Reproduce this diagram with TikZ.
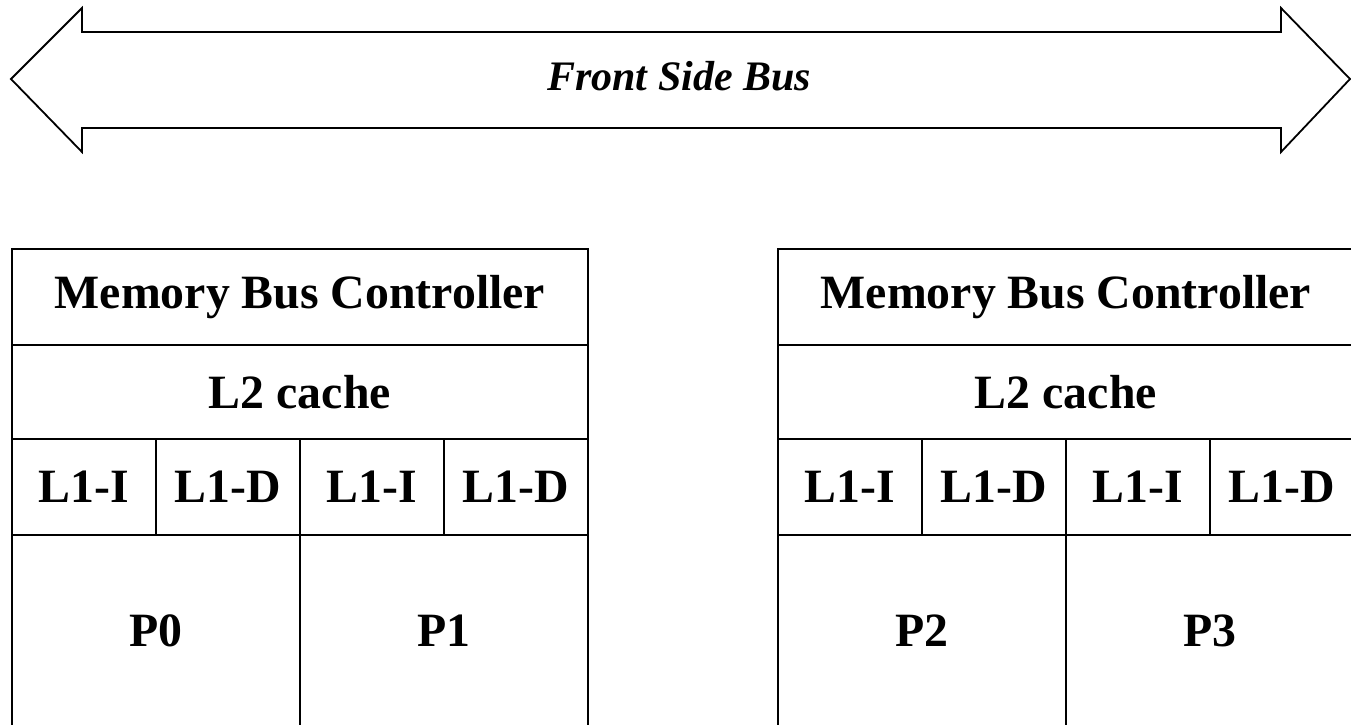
\documentclass[tikz,border=0pt]{standalone}
\usepackage{fontspec}
\setmainfont{Liberation Serif}
\begin{document}
\begin{tikzpicture}[x=1pt,y=-1pt,line width=1.8pt,
  cell/.style={draw,rectangle,inner sep=0pt,anchor=north west,
    font=\fontsize{47.8}{50}\selectfont\bfseries},
  bus/.style={draw,line join=miter}]
\useasboundingbox (0,0) rectangle (1351,724);
\clip (0,0) rectangle (1351,724);
% Front side bus arrow
\draw[bus] (11,79) -- (82,8) -- (82,32) -- (1281,32) -- (1281,8) -- (1350,79)
  -- (1281,152) -- (1281,128) -- (82,128) -- (82,152) -- cycle;
\node[font=\fontsize{42}{45}\selectfont\bfseries\itshape] (fsb) at (679,76) {Front Side Bus};
% Processor groups (lower edge lies just outside the picture)
\foreach \g/\x/\pa/\pb in {l/11/P0/P1, r/777/P2/P3} {
  \node[cell,minimum width=576pt,minimum height=96pt] (\g mbc) at (\x,248) {Memory Bus Controller};
  \node[cell,minimum width=576pt,minimum height=94pt] (\g l2) at (\x,344) {L2 cache};
  \node[cell,minimum width=144pt,minimum height=96pt] (\g ia) at (\x,438) {L1-I};
  \node[cell,minimum width=144pt,minimum height=96pt] (\g da) at (\x+144,438) {L1-D};
  \node[cell,minimum width=144pt,minimum height=96pt] (\g ib) at (\x+288,438) {L1-I};
  \node[cell,minimum width=144pt,minimum height=96pt] (\g db) at (\x+432,438) {L1-D};
  \node[cell,minimum width=288pt,minimum height=192pt] (\g pa) at (\x,534) {\pa};
  \node[cell,minimum width=288pt,minimum height=192pt] (\g pb) at (\x+288,534) {\pb};
}
\end{tikzpicture}
\end{document}
